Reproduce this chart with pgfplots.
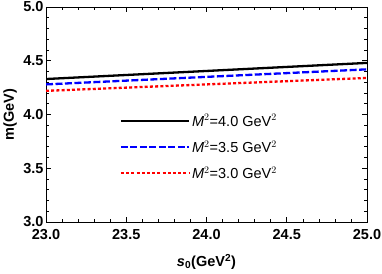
\documentclass[border=0pt]{standalone}
\usepackage{fontspec}
\setmainfont{Liberation Sans}
\usepackage{pgfplots}
\pgfplotsset{compat=1.18}
\begin{document}
\begin{tikzpicture}
\begin{axis}[
  name=ax,
  scale only axis,
  width=321pt, height=215pt,
  xmin=23, xmax=25, ymin=3, ymax=5,
  xtick={23,23.5,24,24.5,25},
  ytick={3,3.5,4,4.5,5},
  minor tick num=4,
  xticklabel style={/pgf/number format/fixed,/pgf/number format/fixed zerofill,/pgf/number format/precision=1, yshift=-4pt},
  yticklabel style={/pgf/number format/fixed,/pgf/number format/fixed zerofill,/pgf/number format/precision=1, xshift=1pt},
  /pgf/number format/assume math mode=true,
  tick label style={font=\fontsize{14.5}{16}\selectfont\bfseries},
  label style={font=\fontsize{14.5}{16}\selectfont\bfseries},
  major tick length=5pt, minor tick length=3pt,
  tick style={black, line width=0.6pt},
  axis line style={line width=0.8pt},
  xlabel={\textit{s}$_{\mathbf 0}$(GeV$^{\mathbf 2}$)},
  ylabel={m(GeV)},
  xlabel style={at={(axis description cs:0.5,-0.186)}, anchor=center},
  ylabel style={at={(axis description cs:-0.112,0.5)}, anchor=center},
  legend style={at={(0.22,0.52)}, anchor=north west, draw=none, fill=none,
     font=\fontsize{14.5}{16}\selectfont, row sep=9pt},
  legend cell align=left,
  legend image code/.code={\draw[#1] (0pt,0pt) -- (68pt,0pt);},
]
\addplot[black, line width=2.3pt] coordinates {(23,4.33) (25,4.48)};
\addlegendentry{\textit{M}$^2$=4.0 GeV$^2$}
\addplot[blue, line width=2.3pt, dash pattern=on 7pt off 2.5pt] coordinates {(23,4.28) (25,4.42)};
\addlegendentry{\textit{M}$^2$=3.5 GeV$^2$}
\addplot[red, line width=2.3pt, dash pattern=on 3pt off 2.2pt] coordinates {(23,4.22) (25,4.34)};
\addlegendentry{\textit{M}$^2$=3.0 GeV$^2$}
\end{axis}
\pgfresetboundingbox
\path ([shift={(-46pt,-51pt)}]ax.south west) rectangle ([shift={(15pt,7pt)}]ax.north east);
\end{tikzpicture}
\end{document}
